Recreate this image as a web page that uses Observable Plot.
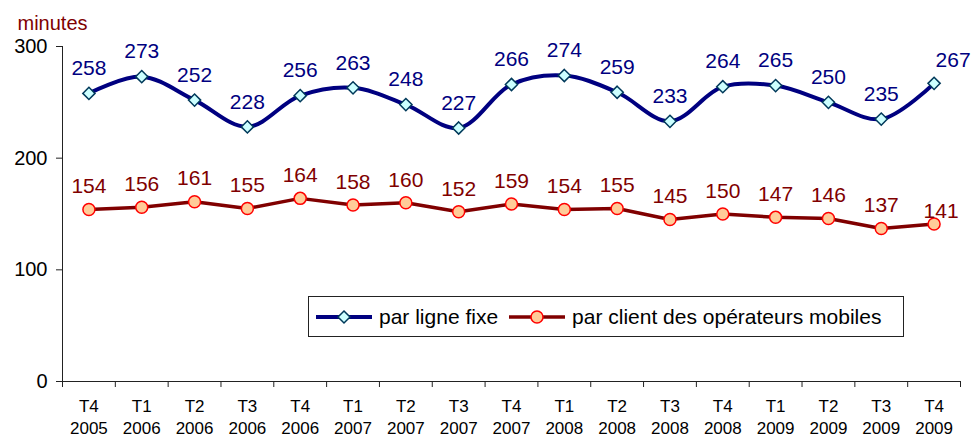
<!DOCTYPE html>
<html>
<head>
<meta charset="utf-8">
<script src="https://cdn.jsdelivr.net/npm/d3@7"></script>
<script src="https://cdn.jsdelivr.net/npm/@observablehq/plot@0.6"></script>
<style>
  html, body { margin: 0; padding: 0; background: #fff; }
  #wrap { position: relative; width: 974px; height: 438px; font-family: "Liberation Sans", Arial, sans-serif; }
  #legend { position: absolute; left: 308px; top: 296px; width: 596px; height: 41px; box-sizing: border-box;
            border: 1px solid #222; background: #fff; display: flex; align-items: center; font-size: 21px; color: #000; }
  #legend .item { display: flex; align-items: center; }
  #legend svg { display: block; }
</style>
</head>
<body>
<div id="wrap"></div>
<script>
const quarters = ["T4","T1","T2","T3","T4","T1","T2","T3","T4","T1","T2","T3","T4","T1","T2","T3","T4"];
const years = ["2005","2006","2006","2006","2006","2007","2007","2007","2007","2008","2008","2008","2008","2009","2009","2009","2009"];
const fixe = [258, 273, 252, 228, 256, 263, 248, 227, 266, 274, 259, 233, 264, 265, 250, 235, 267];
const mobile = [154, 156, 161, 155, 164, 158, 160, 152, 159, 154, 155, 145, 150, 147, 146, 137, 141];
const seriesNames = ["par ligne fixe", "par client des opérateurs mobiles"];
const yTicks = [0, 100, 200, 300];
const unitLabel = "minutes";

const categories = quarters.map((q, i) => q + "\n" + years[i]);
const data = categories.map((c, i) => ({cat: c, fixe: fixe[i], mobile: mobile[i], last: i === categories.length - 1}));

const blue = "#000080", blueFill = "#ccffff", blueStroke = "#00395a";
const red = "#800000", redFill = "#ffcc99", redStroke = "#ff0000";

const W = 974, H = 438, mL = 62, mR = 14, mT = 46, mB = 57;
const bw = (W - mL - mR) / categories.length;

const chart = Plot.plot({
  width: W, height: H,
  marginLeft: mL, marginRight: mR, marginTop: mT, marginBottom: mB,
  style: {fontFamily: "'Liberation Sans', Arial, sans-serif", background: "white", overflow: "visible", color: "#000"},
  x: {type: "band", domain: categories, padding: 0, round: false, axis: null, label: null},
  y: {domain: [0, 300], axis: null, label: null},
  marks: [
    Plot.frame({anchor: "left", stroke: "#222"}),
    Plot.frame({anchor: "bottom", stroke: "#222"}),
    Plot.axisY(yTicks, {tickSize: 6, tickPadding: 9, fontSize: 20, stroke: "#222", fill: "#000", label: null}),
    Plot.axisX(categories, {tickSize: 6, dx: -bw / 2, tickFormat: () => "", stroke: "#222", label: null}),
    Plot.axisX([categories[categories.length - 1]], {tickSize: 6, dx: bw / 2, tickFormat: () => "", stroke: "#222", label: null}),
    Plot.axisX(categories, {tickSize: 0, tickPadding: 15, fontSize: 17, lineHeight: 1.28, fill: "#000", tickFormat: d => d, label: null}),
    Plot.text([unitLabel], {frameAnchor: "top-left", dx: -45, dy: -17, lineAnchor: "bottom", textAnchor: "start", fontSize: 20, fill: red}),
    Plot.line(data, {x: "cat", y: "mobile", stroke: red, strokeWidth: 3.5, curve: "linear"}),
    Plot.line(data, {x: "cat", y: "fixe", stroke: blue, strokeWidth: 4, curve: "catmull-rom"}),
    Plot.dot(data, {x: "cat", y: "mobile", r: 6, fill: redFill, stroke: redStroke, strokeWidth: 1.5}),
    Plot.dot(data, {x: "cat", y: "fixe", symbol: "diamond2", r: 5.5, fill: blueFill, stroke: blueStroke, strokeWidth: 1.5}),
    Plot.text(data.filter(d => !d.last), {x: "cat", y: "fixe", text: d => String(d.fixe), dy: -25, fontSize: 21, fill: blue}),
    Plot.text(data.filter(d => d.last), {x: "cat", y: "fixe", text: d => String(d.fixe), dy: -23, dx: 19, fontSize: 21, fill: blue}),
    Plot.text(data.filter(d => !d.last), {x: "cat", y: "mobile", text: d => String(d.mobile), dy: -23, fontSize: 21, fill: red}),
    Plot.text(data.filter(d => d.last), {x: "cat", y: "mobile", text: d => String(d.mobile), dy: -13, dx: 7, fontSize: 21, fill: red})
  ]
});

const wrap = document.getElementById("wrap");
wrap.appendChild(chart);

// Legend
const legend = document.createElement("div");
legend.id = "legend";
function swatch(kind) {
  const s = d3.create("svg").attr("width", 58).attr("height", 20);
  const col = kind === 0 ? blue : red;
  s.append("line").attr("x1", 1).attr("x2", 57).attr("y1", 10).attr("y2", 10).attr("stroke", col).attr("stroke-width", kind === 0 ? 4 : 3.5);
  if (kind === 0) {
    s.append("path").attr("d", "M29,4 L35,10 L29,16 L23,10 Z").attr("fill", blueFill).attr("stroke", blueStroke).attr("stroke-width", 1.5);
  } else {
    s.append("circle").attr("cx", 29).attr("cy", 10).attr("r", 6).attr("fill", redFill).attr("stroke", redStroke).attr("stroke-width", 1.5);
  }
  return s.node();
}
seriesNames.forEach((name, k) => {
  const item = document.createElement("div");
  item.className = "item";
  item.style.marginLeft = k === 0 ? "6px" : "10px";
  item.appendChild(swatch(k));
  const t = document.createElement("span");
  t.textContent = name;
  t.style.marginLeft = "6px";
  item.appendChild(t);
  legend.appendChild(item);
});
wrap.appendChild(legend);
</script>
</body>
</html>
